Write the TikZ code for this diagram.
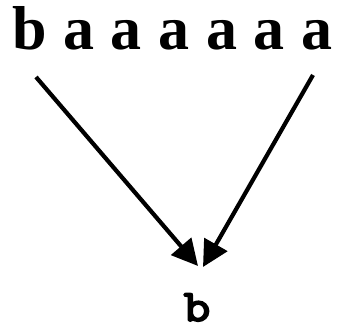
\documentclass[tikz,border=0pt]{standalone}
\usepackage{fontspec}
\setmainfont{Liberation Serif}
\newfontfamily\cmonob[FakeBold=4]{Latin Modern Mono}
\usetikzlibrary{arrows.meta}
\begin{document}
\begin{tikzpicture}[x=1pt,y=-1pt,
  arr/.style={line width=4.2pt,-{Triangle[length=26pt,width=26pt]}}]
\useasboundingbox (0,0) rectangle (337,329);
\node[anchor=base west,inner sep=0pt,font=\fontsize{62}{62}\selectfont\bfseries] (top) at (12,49) {\spaceskip=16.6pt\relax b a a a a a a};
\node[anchor=base,inner sep=0pt,text depth=0pt,xscale=1.15,font=\fontsize{45}{45}\cmonob] (bot) at (197,321) {b};
\coordinate (ls) at (36,77);
\coordinate (le) at (198,266);
\coordinate (rs) at (313,75);
\coordinate (re) at (203,267);
\draw[arr] (ls) -- (le);
\draw[arr] (rs) -- (re);
\end{tikzpicture}
\end{document}
